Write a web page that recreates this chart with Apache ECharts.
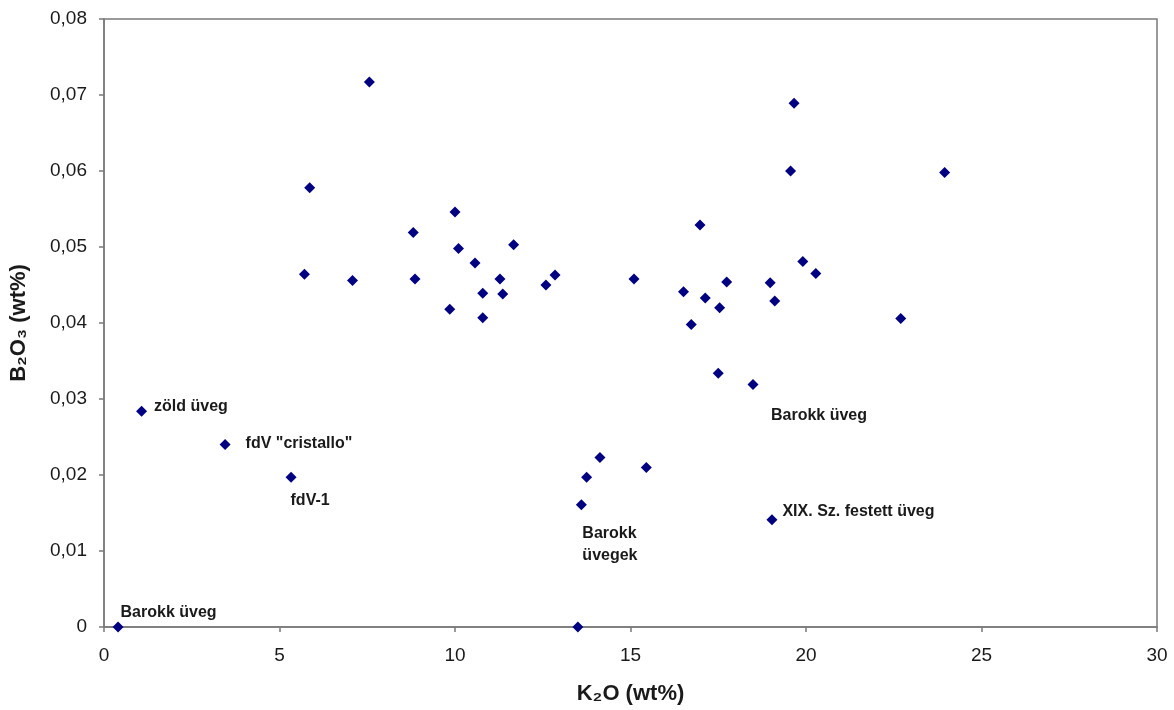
<!DOCTYPE html>
<html>
<head>
<meta charset="utf-8">
<script src="https://cdn.jsdelivr.net/npm/echarts@6/dist/echarts.min.js"></script>
<style>html,body{margin:0;padding:0;background:#fff;}#c{width:1174px;height:710px;}</style>
</head>
<body>
<div id="c"></div>
<script>
// K2O (wt%)
const k2o = [0.40, 1.07, 3.45, 5.33, 7.56, 5.86, 5.71, 7.08, 8.81, 8.86, 10.00, 10.10, 10.57, 9.85, 10.79, 10.79, 11.28, 11.36, 11.67, 12.59, 12.85, 15.10, 16.98, 16.51, 16.73, 17.13, 17.54, 17.74, 18.98, 19.11, 19.66, 19.56, 23.95, 19.91, 20.28, 22.70, 17.50, 18.49, 14.13, 13.75, 15.45, 13.60, 19.03, 13.50];
// B2O3 (wt%)
const b2o3 = [0.0000, 0.0284, 0.0240, 0.0197, 0.0717, 0.0578, 0.0464, 0.0456, 0.0519, 0.0458, 0.0546, 0.0498, 0.0479, 0.0418, 0.0439, 0.0407, 0.0458, 0.0438, 0.0503, 0.0450, 0.0463, 0.0458, 0.0529, 0.0441, 0.0398, 0.0433, 0.0420, 0.0454, 0.0453, 0.0429, 0.0689, 0.0600, 0.0598, 0.0481, 0.0465, 0.0406, 0.0334, 0.0319, 0.0223, 0.0197, 0.0210, 0.0161, 0.0141, 0.0000];
// annotation texts, keyed by point index
const annotIndex = [0, 1, 2, 3, 41, 37, 42];
const annotText = ['Barokk üveg', 'zöld üveg', 'fdV "cristallo"', 'fdV-1', 'Barokk\nüvegek', 'Barokk üveg', 'XIX. Sz. festett üveg'];
const xTicks = [0, 5, 10, 15, 20, 25, 30];
const yTicks = [0, 0.01, 0.02, 0.03, 0.04, 0.05, 0.06, 0.07, 0.08];

const labelLayout = [
  {position: 'right', offset: [-8, -14]},
  {position: 'right', offset: [2, -5]},
  {position: 'right', offset: [10, -1]},
  {position: 'bottom', offset: [19, 5]},
  {position: 'bottom', align: 'left', offset: [1, 7], lineHeight: 22},
  {position: 'bottom', align: 'left', offset: [18, 13]},
  {position: 'right', offset: [0, -8]}
];

const data = k2o.map((x, i) => {
  const item = {value: [x, b2o3[i]]};
  const a = annotIndex.indexOf(i);
  if (a >= 0) {
    item.label = Object.assign({
      show: true,
      formatter: annotText[a],
      color: '#1a1a1a',
      fontFamily: 'Liberation Sans, Arial, sans-serif',
      fontWeight: 'bold',
      fontSize: 16,
      distance: 5
    }, labelLayout[a]);
  }
  return item;
});

const chart = echarts.init(document.getElementById('c'));
chart.setOption({
  animation: false,
  backgroundColor: '#fff',
  grid: {left: 104, right: 17, top: 19, bottom: 83, show: true, borderColor: '#7a7a7a', borderWidth: 1.5, backgroundColor: 'transparent'},
  xAxis: {
    type: 'value', min: 0, max: 30, interval: 5,
    name: 'K₂O (wt%)', nameLocation: 'middle', nameGap: 56,
    nameTextStyle: {fontFamily: 'Liberation Sans, Arial, sans-serif', fontWeight: 'bold', fontSize: 22, color: '#1a1a1a'},
    axisLine: {show: true, lineStyle: {color: '#7a7a7a', width: 1.5}},
    axisTick: {show: true, length: 5, lineStyle: {color: '#7a7a7a', width: 1.5}},
    axisLabel: {fontFamily: 'Liberation Sans, Arial, sans-serif', fontSize: 19, color: '#1a1a1a', margin: 19,
      formatter: v => xTicks.includes(v) ? String(v) : ''},
    splitLine: {show: false}
  },
  yAxis: {
    type: 'value', min: 0, max: 0.08, interval: 0.01,
    name: 'B₂O₃ (wt%)', nameLocation: 'middle', nameGap: 74, nameRotate: 90,
    nameTextStyle: {fontFamily: 'Liberation Sans, Arial, sans-serif', fontWeight: 'bold', fontSize: 22, color: '#1a1a1a'},
    axisLine: {show: true, lineStyle: {color: '#7a7a7a', width: 1.5}},
    axisTick: {show: true, length: 5, lineStyle: {color: '#7a7a7a', width: 1.5}},
    axisLabel: {fontFamily: 'Liberation Sans, Arial, sans-serif', fontSize: 19, color: '#1a1a1a', margin: 17,
      formatter: v => {
        const t = yTicks.find(y => Math.abs(y - v) < 1e-9);
        if (t === undefined) return '';
        return t === 0 ? '0' : t.toFixed(2).replace('.', ',');
      }},
    splitLine: {show: false}
  },
  series: [{
    type: 'scatter',
    symbol: 'diamond',
    symbolSize: 11,
    itemStyle: {color: '#000080', opacity: 1},
    emphasis: {disabled: true},
    data: data
  }]
});
</script>
</body>
</html>
